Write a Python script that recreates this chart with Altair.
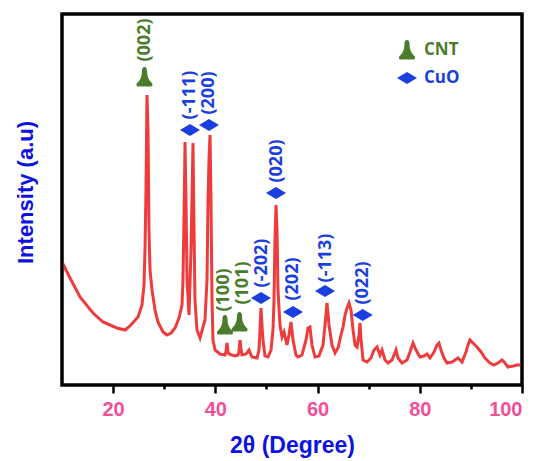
import altair as alt
import pandas as pd

# ---- XRD pattern (2θ in degrees, intensity in a.u.) ----
two_theta = [10.00, 11.57, 13.52, 16.07, 18.02, 20.76, 22.33, 23.30, 24.87, 25.65,
             26.04, 26.24, 26.43, 26.63, 26.83, 27.02, 27.22, 27.61, 28.20, 28.78,
             29.76, 30.54, 31.33, 32.11, 32.89, 33.48, 33.67, 33.87, 34.07, 34.26,
             34.46, 34.85, 35.24, 35.63, 35.83, 36.02, 36.41, 37.00, 37.59, 37.98,
             38.37, 38.57, 38.76, 38.96, 39.15, 39.35, 39.54, 39.94, 40.91, 41.89,
             42.09, 42.28, 42.48, 42.68, 43.85, 44.44, 44.63, 44.83, 45.02, 45.22,
             46.01, 46.59, 46.98, 47.17, 48.15, 48.54, 48.74, 48.93, 49.13, 49.32,
             49.72, 50.30, 50.89, 51.28, 51.48, 51.67, 51.87, 52.07, 52.26, 52.65,
             53.05, 53.44, 54.02, 54.41, 54.80, 55.20, 55.78, 56.17, 56.96, 57.74,
             58.13, 58.52, 58.91, 59.50, 60.28, 61.07, 61.46, 61.85, 62.24, 62.83,
             63.42, 64.00, 64.59, 64.98, 65.38, 65.77, 66.15, 66.55, 66.94, 67.33,
             67.72, 68.11, 68.31, 68.51, 68.90, 69.68, 70.46, 71.05, 71.63, 72.22,
             72.61, 73.20, 73.79, 74.57, 74.96, 75.35, 75.74, 76.52, 77.50, 78.09,
             78.68, 79.26, 80.04, 80.83, 81.41, 82.00, 82.78, 83.37, 83.76, 84.15,
             84.74, 85.33, 86.31, 86.90, 87.48, 88.26, 89.04, 89.43, 89.83, 90.41,
             91.19, 91.98, 92.76, 93.74, 94.52, 95.30, 96.09, 96.67, 97.26, 98.24,
             99.02, 100.00]
intensity = [123, 107, 88, 72, 63, 57, 55, 59, 68, 80,
             100, 135, 195, 290, 255, 155, 115, 95, 75, 63,
             53, 50, 52, 57, 67, 80, 105, 165, 243, 185,
             105, 70, 135, 242, 155, 85, 55, 47, 58, 65,
             105, 185, 225, 250, 185, 85, 45, 35, 31, 30,
             34, 42, 33, 31, 29, 30, 34, 45, 36, 30,
             31, 35, 30, 28, 27, 35, 55, 77, 60, 45,
             29, 28, 35, 55, 85, 145, 180, 155, 95, 60,
             48, 53, 40, 50, 63, 45, 30, 28, 30, 45,
             57, 58, 40, 28, 29, 40, 60, 82, 60, 40,
             32, 37, 50, 58, 70, 77, 82, 75, 55, 40,
             38, 50, 62, 45, 25, 23, 27, 35, 38, 30,
             35, 25, 22, 25, 30, 35, 27, 22, 25, 33,
             42, 35, 28, 29, 31, 27, 33, 40, 42, 35,
             27, 22, 23, 25, 27, 23, 33, 40, 45, 42,
             38, 33, 27, 22, 20, 22, 25, 22, 18, 19,
             20, 20]

# ---- peak annotations ----
peak_labels = ["(002)", "(-111)", "(200)", "(020)", "(100)", "(101)",
               "(-202)", "(202)", "(-113)", "(022)"]
peak_phase = ["CNT", "CuO", "CuO", "CuO", "CNT", "CNT",
              "CuO", "CuO", "CuO", "CuO"]
marker_theta = [26.14, 35.04, 38.76, 51.87, 41.89, 44.73, 48.93, 55.20, 61.46, 68.84]
marker_level = [308, 255, 260, 192, 60, 63, 87, 73, 94, 70]
label_theta = [26.24, 35.04, 38.76, 52.07, 41.70, 45.41, 49.13, 55.20, 61.65, 68.84]
label_level = [345, 290, 292, 224, 95, 102, 122, 106, 127, 102]

phases = ["CNT", "CuO"]
phase_colors = ["#4a7c2c", "#1a3ee0"]
x_ticks = [20, 30, 40, 50, 60, 70, 80, 90, 100]

BELL = ("M0,-1 C0.2,-1 0.26,-0.8 0.26,-0.5 C0.26,-0.1 0.4,0.3 0.68,0.55 "
        "C0.9,0.72 0.82,1 0.52,0.95 C0.34,0.92 0.18,1 0,0.92 "
        "C-0.18,1 -0.34,0.92 -0.52,0.95 C-0.82,1 -0.9,0.72 -0.68,0.55 "
        "C-0.4,0.3 -0.26,-0.1 -0.26,-0.5 C-0.26,-0.8 -0.2,-1 0,-1 Z")
DIAMOND = "M-1,0 L0,-0.6 L1,0 L0,0.6 Z"

xrd = pd.DataFrame({"two_theta": two_theta, "intensity": intensity})
marks = pd.DataFrame({"two_theta": marker_theta, "intensity": marker_level,
                      "phase": peak_phase, "label": peak_labels})
labels = pd.DataFrame({"two_theta": label_theta, "intensity": label_level,
                       "phase": peak_phase, "label": peak_labels})

x_scale = alt.Scale(domain=[10, 100], nice=False, zero=False)
y_scale = alt.Scale(domain=[0, 371], nice=False)
color_scale = alt.Scale(domain=phases, range=phase_colors)
shape_scale = alt.Scale(domain=phases, range=[BELL, DIAMOND])

x_axis = alt.Axis(
    title="2θ (Degree)", values=x_ticks,
    labelExpr="datum.value % 20 == 0 ? datum.label : ''",
    grid=False, domain=False,
    tickColor="black", tickWidth=2.5,
    tickSize={"condition": {"test": "datum.value % 20 != 0", "value": 4}, "value": 8},
    labelFont="Liberation Sans", labelFontSize=20, labelFontWeight="bold",
    labelColor="#f0509a", labelPadding=6,
    titleFont="Liberation Sans", titleFontSize=23, titleFontWeight="bold",
    titleColor="#0d12e0", titleY=60, titleBaseline="middle",
)
y_axis = alt.Axis(
    title="Intensity (a.u)", ticks=False, labels=False, domain=False, grid=False,
    titleFont="Liberation Sans", titleFontSize=22, titleFontWeight="bold",
    titleColor="#0d12e0", titleAngle=270, titleX=-37, titleY=178,
    titleBaseline="middle", titleAlign="center",
)

X = alt.X("two_theta:Q", scale=x_scale, axis=x_axis)
Y = alt.Y("intensity:Q", scale=y_scale, axis=y_axis)

line = alt.Chart(xrd).mark_line(color="#ee3b3b", strokeWidth=3).encode(x=X, y=Y)

legend = alt.Legend(title=None, orient="none", legendX=335, legendY=26,
                    padding=0, rowPadding=8, symbolSize=400,
                    labelOffset=7, labelFont="Open Sans",
                    labelFontSize=17, labelFontWeight="bold",
                    labelColor={"expr": "datum.value == 'CNT' ? '#4a7c2c' : '#1a3ee0'"},
                    symbolStrokeWidth=0)

points = alt.Chart(marks).mark_point(filled=True, size=400, opacity=1, strokeWidth=0).encode(
    x=X, y=Y,
    shape=alt.Shape("phase:N", scale=shape_scale, legend=legend),
    color=alt.Color("phase:N", scale=color_scale, legend=legend),
)

texts = alt.Chart(labels).mark_text(
    angle=270, align="center", baseline="middle",
    font="Open Sans", fontSize=18, fontWeight="bold",
).encode(
    x=X, y=Y, text="label:N",
    color=alt.Color("phase:N", scale=color_scale, legend=None),
)

# plot frame (thick black box around the plot area)
frame = alt.Chart(pd.DataFrame({"frame": [0]})).mark_rect(
    fillOpacity=0, stroke="black", strokeWidth=3
).encode(x=alt.value(0), x2=alt.value(460), y=alt.value(0), y2=alt.value(371))

chart = alt.layer(line, points, texts, frame).properties(
    width=460, height=371,
    padding={"left": 54, "top": 6, "right": 10, "bottom": 74},
    autosize=alt.AutoSizeParams(type="none"),
).configure(
    background="white",
    view=alt.ViewConfig(stroke="black", strokeWidth=3),
)

chart.save("out.html", embed_options={"renderer": "svg", "actions": False})
